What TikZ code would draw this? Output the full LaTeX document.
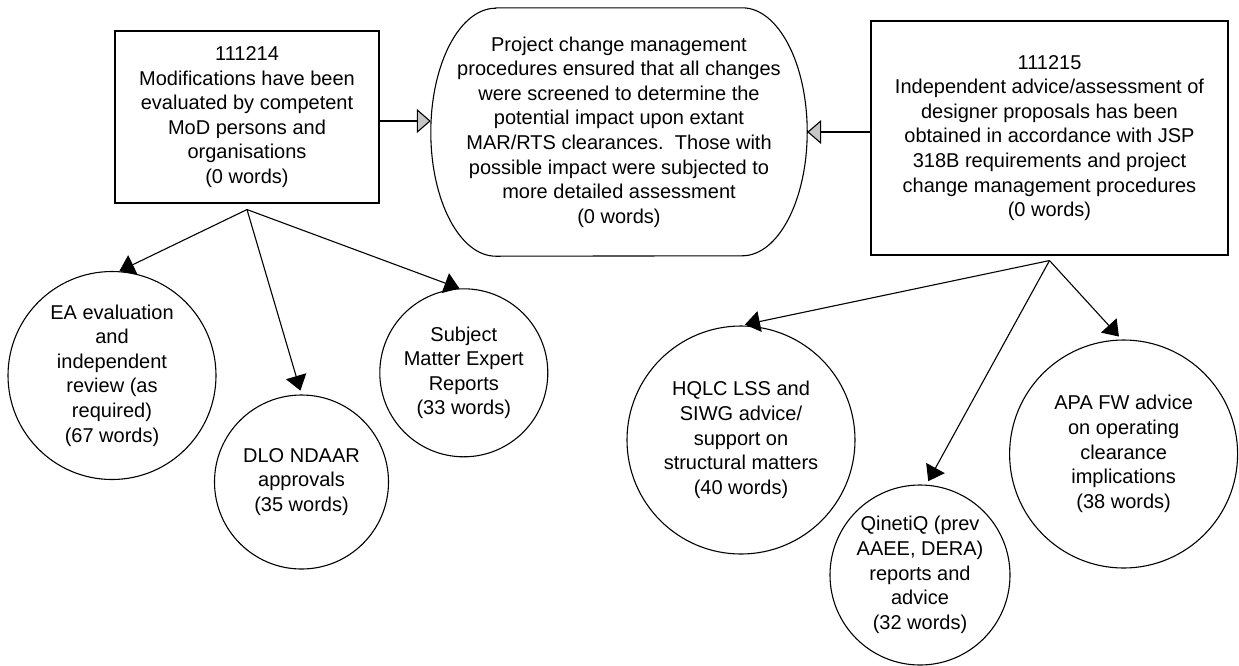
\documentclass[tikz,border=0pt]{standalone}
\usepackage{fontspec}
\setmainfont{Liberation Sans}
\usetikzlibrary{arrows.meta}
\begin{document}
\begin{tikzpicture}[x=1pt,y=-1pt,
  every node/.style={font=\fontsize{20}{24.6}\selectfont, align=center, inner sep=0pt},
  itembox/.style={draw, rectangle, line width=1.1pt},
  bubble/.style={draw, circle, line width=1.1pt},
  branchlink/.style={line width=1.1pt, -{Triangle[length=15pt,width=21pt]}},
  gap/.style={shorten >=4pt},
  feed/.style={line width=1.1pt, -{Triangle[length=14pt,width=24pt,fill=gray!45]}}
]
\useasboundingbox (0,0) rectangle (1239,665);

% top row
\node[itembox, minimum width=264pt, minimum height=172pt] (lbox) at (247,117)
  {111214\\Modifications have been\\evaluated by competent\\MoD persons and\\organisations\\(0 words)};
\node[minimum width=376pt, minimum height=248pt] (cent) at (619,132)
  {Project change management\\procedures ensured that all changes\\were screened to determine the\\potential impact upon extant\\MAR/RTS clearances.\ \ Those with\\possible impact were subjected to\\more detailed assessment\\(0 words)};
\draw[line width=1.1pt]
  ([xshift=65pt]cent.north west) -- ([xshift=-65pt]cent.north east)
  arc[start angle=90, end angle=-90, x radius=65pt, y radius=124pt]
  -- ([xshift=65pt]cent.south west)
  arc[start angle=270, end angle=90, x radius=65pt, y radius=124pt] -- cycle;
\node[itembox, minimum width=357pt, minimum height=234pt] (rbox) at (1049.5,138)
  {111215\\Independent advice/assessment of\\designer proposals has been\\obtained in accordance with JSP\\318B requirements and project\\change management procedures\\(0 words)};

% supporting evidence, left
\node[bubble, minimum size=208pt] (ea) at (112,375.5)
  {EA evaluation\\and\\independent\\review (as\\required)\\(67 words)};
\node[bubble, minimum size=174pt] (dlo) at (301.5,482)
  {DLO NDAAR\\approvals\\(35 words)};
\node[bubble, minimum size=168pt] (sme) at (463.8,372.8)
  {Subject\\Matter Expert\\Reports\\(33 words)};

% supporting evidence, right
\node[bubble, minimum size=228pt] (hqlc) at (741,440)
  {HQLC LSS and\\SIWG advice/\\support on\\structural matters\\(40 words)};
\node[bubble, minimum size=180pt] (qin) at (920,575)
  {QinetiQ (prev\\AAEE, DERA)\\reports and\\advice\\(32 words)};
\node[bubble, minimum size=228pt] (apa) at (1123.6,454)
  {APA FW advice\\on operating\\clearance\\implications\\(38 words)};

% claims feeding the central goal
\coordinate (la) at ([yshift=-4pt]lbox.east);
\draw[feed] (la) -- (la -| cent.west);
\coordinate (ra) at (rbox.west |- cent.east);
\draw[feed] (ra) -- (cent.east);

% evidence links
\coordinate (lfork) at ([yshift=-6pt]lbox.south);
\draw[branchlink] (lfork) -- (ea.86);
\draw[branchlink, gap] (lfork) -- (dlo.north);
\draw[branchlink] (lfork) -- (sme.93);

\coordinate (rfork) at ([yshift=-5pt]rbox.south);
\draw[branchlink, gap] (rfork) -- (hqlc.north);
\draw[branchlink, gap] (rfork) -- (qin.86);
\draw[branchlink, gap] (rfork) -- (apa.91);
\end{tikzpicture}
\end{document}
